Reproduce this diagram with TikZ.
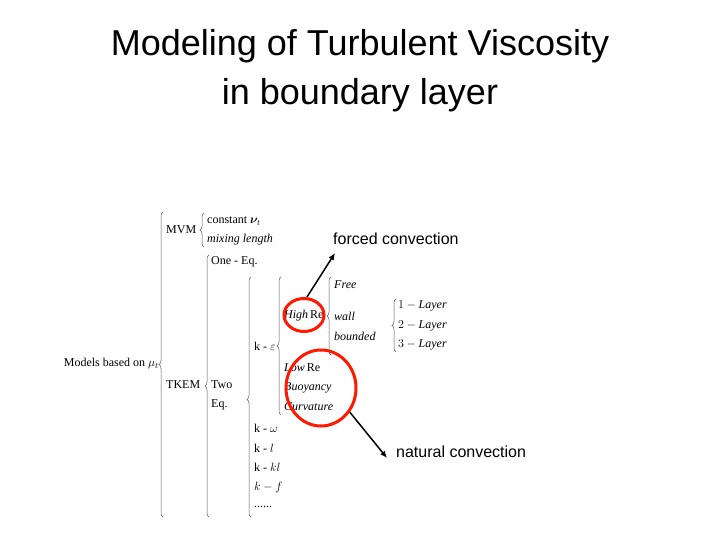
\documentclass[tikz,border=0pt]{standalone}
\usepackage{amsmath,amssymb,bm}
\usepackage{fontspec}
\setmainfont{Liberation Serif}
\newfontfamily\arialf{Liberation Sans}
\usetikzlibrary{decorations.pathreplacing,arrows.meta,shapes.geometric}
\tikzset{
  br/.style={decorate,decoration={brace,amplitude=4pt,aspect=#1},line width=0.5pt,gray!70!black},
  tx/.style={anchor=west,inner sep=0pt,font=\fontsize{12}{13}\selectfont},
  ring/.style={draw=red!80!orange,line width=3pt},
  arr/.style={-{Latex[length=7pt,width=6pt]},line width=1.5pt},
  lbl/.style={anchor=west,inner sep=0pt,font=\arialf\fontsize{16}{18}\selectfont}
}
\begin{document}
\begin{tikzpicture}[x=1pt,y=-1pt]
\useasboundingbox (0,0) rectangle (720,540);
\node[font=\arialf\fontsize{36}{49}\selectfont,align=center] (title) at (360,71) {Modeling of Turbulent Viscosity\\in boundary layer};
% level 0
\node[tx,anchor=east] (m) at (159,364) {Models based on $\mu_t$};
\draw[br=0.5] (163,517) -- (163,212);
% MVM
\node[tx] (mvm) at (166,230) {MVM};
\draw[br=0.5] (204,247) -- (204,213);
\node[tx] (c) at (207,221) {constant $\bm{\nu}_t$};
\node[tx] (ml) at (207,240) {\itshape mixing length};
% TKEM
\node[tx] (tk) at (166,385) {TKEM};
\draw[br=0.5] (209,517) -- (209,255);
\node[tx] (one) at (211,262) {One - Eq.};
\node[tx] (two) at (211,385) {Two};
\node[tx] (eq) at (211,405) {Eq.};
% two-eq models
\draw[br=0.49] (251,517) -- (251,277);
\node[tx] (ke) at (254,346) {k - $\varepsilon$};
\node[tx] (kw) at (254,428) {k - $\omega$};
\node[tx] (kl) at (254,448) {k - $l$};
\node[tx] (kkl) at (254,467) {k - $kl$};
\node[tx] (kf) at (254,487) {$k-f$};
\node[tx] (dots) at (254,507) {......};
% k-eps branches
\draw[br=0.5] (281,415) -- (281,277);
\node[tx] (hr) at (284,316) {\itshape High\,\upshape Re};
\node[tx] (lr) at (284,368) {\itshape Low\,\upshape Re};
\node[tx] (bu) at (284,388) {\itshape Buoyancy};
\node[tx] (cu) at (284,407) {\itshape Curvature};
% High Re branches
\draw[br=0.5] (331,355) -- (331,277);
\node[tx] (fr) at (334,285) {\itshape Free};
\node[tx] (wa) at (334,316) {\itshape wall};
\node[tx] (bo) at (334,336) {\itshape bounded};
% layers
\draw[br=0.5] (396,352) -- (396,299);
\node[tx] (l1) at (398,306) {$1-\mathit{Layer}$};
\node[tx] (l2) at (398,326) {$2-\mathit{Layer}$};
\node[tx] (l3) at (398,345) {$3-\mathit{Layer}$};
% rings
\node[ring,ellipse,minimum width=40pt,minimum height=33pt,inner sep=0pt] (e1) at (304,315) {};
\node[ring,ellipse,minimum width=70pt,minimum height=76pt,inner sep=0pt] (e2) at (321,388) {};
% labels
\node[lbl] (fc) at (333,239) {forced convection};
\node[lbl] (nc) at (396,452) {natural convection};
\coordinate (a1) at (335,253);
\coordinate (a2) at (387,458);
\draw[arr] ([xshift=3pt]e1.north) -- (a1);
\draw[arr] (e2.-40) -- (a2);
\end{tikzpicture}
\end{document}
